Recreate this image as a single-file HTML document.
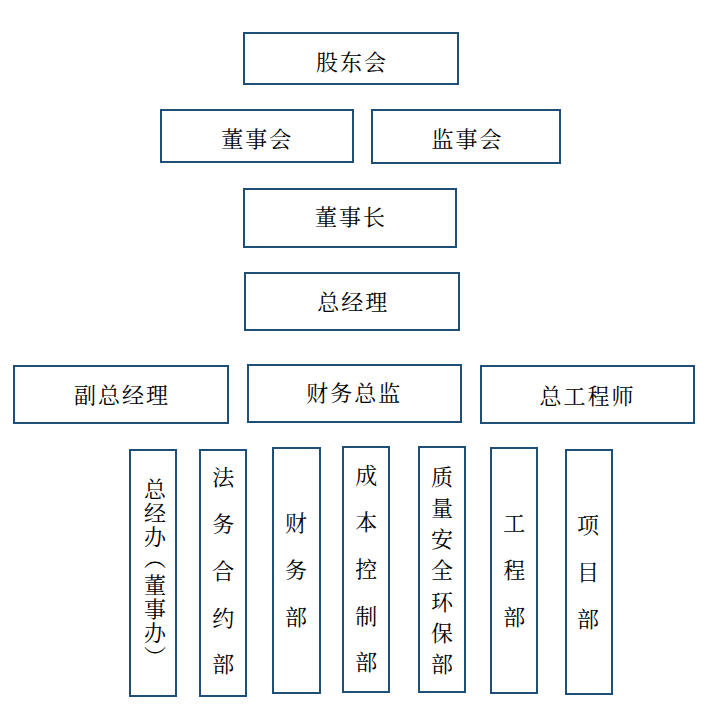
<!DOCTYPE html>
<html lang="zh-CN">
<head>
<meta charset="utf-8">
<title>组织架构图</title>
<style>
html,body{margin:0;padding:0;background:#fff;}
body{width:708px;height:713px;position:relative;overflow:hidden;
  font-family:"Liberation Serif","Noto Serif CJK SC",serif;font-size:22px;font-weight:400;color:#000;}
/* outlined org-chart node */
.box{position:absolute;box-sizing:border-box;border:2px solid #1f4e79;background:#fff;}
/* horizontal label */
.h{position:absolute;white-space:nowrap;line-height:24px;height:24px;letter-spacing:2px;}
/* stacked label: one character per line (box is one character wide) */
.s{position:absolute;width:24px;text-align:center;word-break:break-all;overflow-wrap:anywhere;}
/* true vertical text */
.v{position:absolute;writing-mode:vertical-rl;text-orientation:upright;white-space:nowrap;
  line-height:24px;width:24px;letter-spacing:2px;}
.v i{font-style:normal;position:relative;top:-3.5px;}
</style>
</head>
<body>
<div class="box" style="left:243px;top:32px;width:216px;height:53px"><div class="h" style="left:71px;top:17px">股东会</div></div>
<div class="box" style="left:160px;top:109px;width:194px;height:54px"><div class="h" style="left:59.2px;top:17.2px">董事会</div></div>
<div class="box" style="left:371px;top:109px;width:190px;height:55px"><div class="h" style="left:58.6px;top:17px">监事会</div></div>
<div class="box" style="left:243px;top:188px;width:214px;height:60px"><div class="h" style="left:70.1px;top:16px">董事长</div></div>
<div class="box" style="left:244px;top:272px;width:216px;height:59px"><div class="h" style="left:71.3px;top:17.2px">总经理</div></div>
<div class="box" style="left:13px;top:365px;width:216px;height:59px"><div class="h" style="left:59px;top:17.4px">副总经理</div></div>
<div class="box" style="left:247px;top:364px;width:215px;height:59px"><div class="h" style="left:57.2px;top:16.4px">财务总监</div></div>
<div class="box" style="left:480px;top:365px;width:215px;height:59px"><div class="h" style="left:57.5px;top:18px">总工程师</div></div>
<div class="box" style="left:129px;top:449px;width:48px;height:248px"><div class="v" style="left:9.4px;top:27px">总经办<i>（</i>董事办）</div></div>
<div class="box" style="left:199px;top:449px;width:48px;height:248px"><div class="s" style="left:10.2px;top:4.3px;line-height:46.8px">法务合约部</div></div>
<div class="box" style="left:272px;top:447px;width:49px;height:247px"><div class="s" style="left:10px;top:52.1px;line-height:46.8px">财务部</div></div>
<div class="box" style="left:342px;top:446px;width:48px;height:247px"><div class="s" style="left:10.2px;top:5.3px;line-height:46.8px">成本控制部</div></div>
<div class="box" style="left:418px;top:446px;width:48px;height:247px"><div class="s" style="left:10px;top:14.03px;line-height:31.15px">质量安全环保部</div></div>
<div class="box" style="left:490px;top:447px;width:48px;height:247px"><div class="s" style="left:10.2px;top:52.1px;line-height:46.8px">工程部</div></div>
<div class="box" style="left:565px;top:449px;width:48px;height:246px"><div class="s" style="left:9px;top:52.4px;line-height:46.8px">项目部</div></div>
</body>
</html>
